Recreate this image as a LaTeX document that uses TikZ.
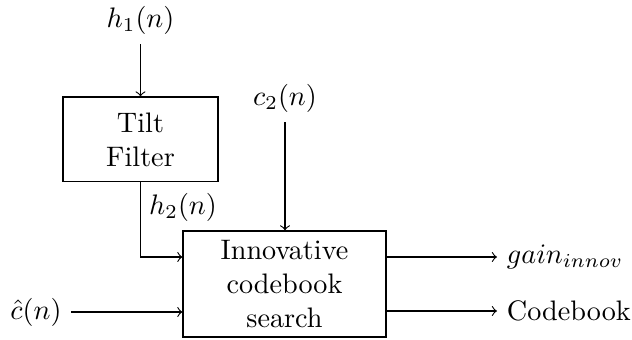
\documentclass[tikz,border=0pt]{standalone}
\usetikzlibrary{positioning}
\begin{document}
\begin{tikzpicture}[x=0.3546pt,y=-0.3546pt,
  blockbox/.style={draw,align=center,inner sep=0pt},
  sig/.style={->}]
\useasboundingbox (0,0) rectangle (632,340);
% blocks
\node[blockbox,minimum width=55pt,minimum height=30.1pt] (tilt) at (140.5,139.5) {Tilt\\Filter};
\node[blockbox,minimum width=72pt,minimum height=37.6pt] (icb) at (284.5,284) {Innovative\\codebook\\search};
% signal labels
\node (h1) at (140.5,20) {$h_1(n)$};
\node (c2) at (285,98) {$c_2(n)$};
\node (h2) at (183,207) {$h_2(n)$};
\node (chat) at (36,312) {$\hat{c}(n)$};
\node[anchor=west] (gain) at (497,257) {$gain_{innov}$};
\node[anchor=west] (cb) at (497,311) {Codebook};
\coordinate (bend) at (140.5,257);
% connections
\draw[sig] (h1) -- (tilt);
\draw[sig] (c2.south) -- (c2.south |- icb.north);
\draw[sig] (tilt.south) -- (bend) -- (bend -| icb.west);
\draw[sig] (chat.east) -- (chat.east -| icb.west);
\draw[sig] (gain.west -| icb.east) -- (gain.west);
\draw[sig] (cb.west -| icb.east) -- (cb.west);
\end{tikzpicture}
\end{document}
